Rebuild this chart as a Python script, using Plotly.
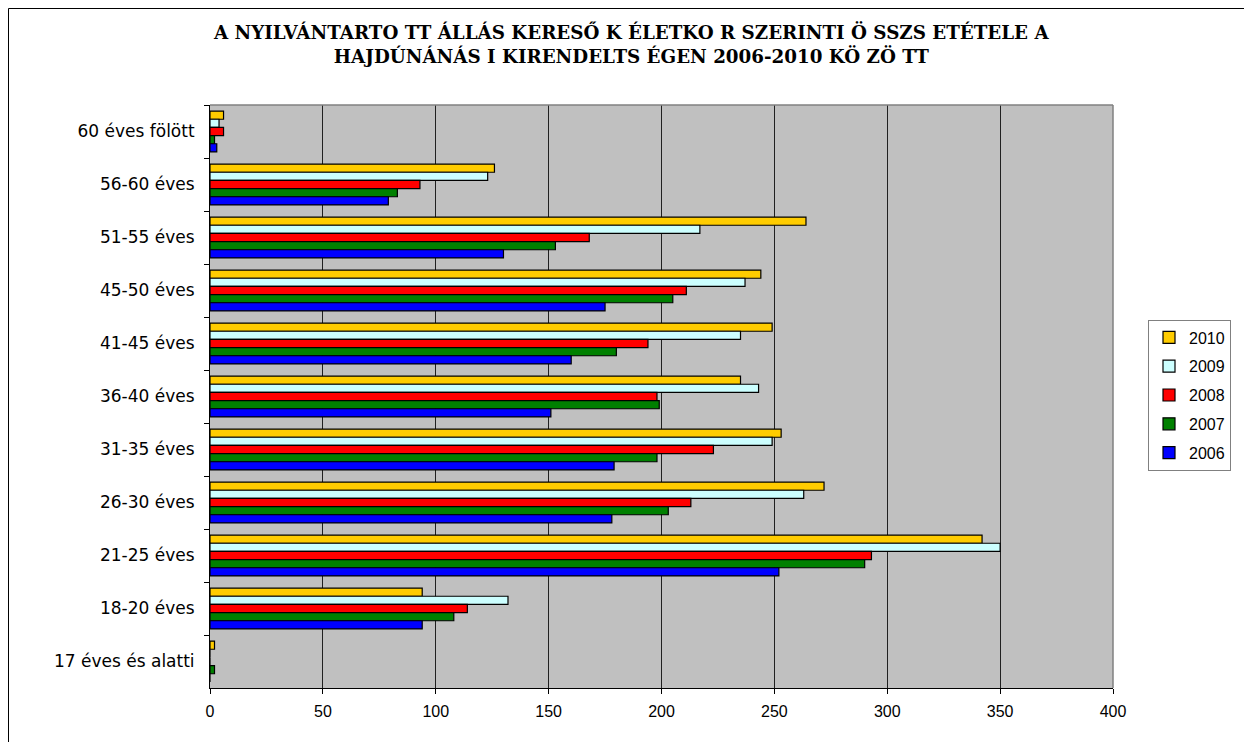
import plotly.graph_objects as go

categories = ["17 éves és alatti", "18-20 éves", "21-25 éves", "26-30 éves", "31-35 éves",
              "36-40 éves", "41-45 éves", "45-50 éves", "51-55 éves", "56-60 éves", "60 éves fölött"]
years = ["2010", "2009", "2008", "2007", "2006"]
v2006 = [0, 94, 252, 178, 179, 151, 160, 175, 130, 79, 3]
v2007 = [2, 108, 290, 203, 198, 199, 180, 205, 153, 83, 2]
v2008 = [0, 114, 293, 213, 223, 198, 194, 211, 168, 93, 6]
v2009 = [0, 132, 350, 263, 249, 243, 235, 237, 217, 123, 4]
v2010 = [2, 94, 342, 272, 253, 235, 249, 244, 264, 126, 6]
values = [v2010, v2009, v2008, v2007, v2006]
colors = ["#FFCC00", "#CCFFFF", "#FF0000", "#008000", "#0000FF"]
xticks = [0, 50, 100, 150, 200, 250, 300, 350, 400]

title_lines = ["A NYILVÁNTARTO TT ÁLLÁS KERESŐ K ÉLETKO R SZERINTI Ö SSZS ETÉTELE A",
               "HAJDÚNÁNÁS I KIRENDELTS ÉGEN 2006-2010 KÖ ZÖ TT"]

fig = go.Figure()
for y, vals, c in zip(years, values, colors):
    fig.add_trace(go.Bar(
        y=categories, x=vals, name=y, orientation="h",
        marker=dict(color=c, line=dict(color="black", width=1.2)),
        legendgroup=y,
    ))

W, H = 1252, 742
L, R, T, B = 202, 147, 97, 62
pw, ph = W - L - R, H - T - B

fig.update_layout(
    width=W, height=H,
    margin=dict(l=L, r=R, t=T, b=B),
    paper_bgcolor="white",
    plot_bgcolor="#C0C0C0",
    barmode="group",
    bargap=0.23,
    bargroupgap=0,
    showlegend=True,
    font=dict(family="Liberation Sans, Arial", size=16, color="black"),
    legend=dict(
        x=(1140 - L) / pw, xanchor="left",
        y=(T + ph - 387) / ph, yanchor="middle",
        traceorder="grouped",
        tracegroupgap=5,
        bordercolor="#808080", borderwidth=1,
        bgcolor="white",
        font=dict(size=16, family="Liberation Sans, Arial"),
        itemwidth=30,
    ),
    xaxis=dict(
        range=[0, 400], tickvals=xticks, ticktext=[str(t) for t in xticks],
        showgrid=True, gridcolor="#202020", gridwidth=1,
        ticks="outside", ticklen=5, tickcolor="black",
        showline=True, linecolor="black", linewidth=1,
        zeroline=False, fixedrange=True,
        tickfont=dict(size=16),
        ticklabelstandoff=4,
    ),
    yaxis=dict(
        type="category", categoryorder="array", categoryarray=categories[::-1],
        autorange="reversed",
        tickson="boundaries", ticks="outside", ticklen=5, tickcolor="black",
        showline=True, linecolor="black", linewidth=1,
        showgrid=False, tickfont=dict(size=17, family="DejaVu Sans"),
        ticklabelstandoff=11,
    ),
)

# plot area frame (top/right in gray)
fig.add_shape(type="line", xref="paper", yref="paper", x0=0, x1=1, y0=1, y1=1,
              line=dict(color="#808080", width=1.5))
fig.add_shape(type="line", xref="paper", yref="paper", x0=1, x1=1, y0=0, y1=1,
              line=dict(color="#808080", width=1.5))
# outer chart border
fig.add_shape(type="rect", xref="paper", yref="paper",
              x0=(0.5 - L) / pw, x1=(W + 20 - L) / pw,
              y0=(T + ph - (H + 20)) / ph, y1=(T + ph - 0.5) / ph,
              line=dict(color="black", width=1), layer="below")

fig.add_annotation(
    xref="paper", yref="paper", x=(623 - L) / pw, y=(T + ph - 36) / ph,
    text="<b>" + title_lines[0] + "</b><br><b>" + title_lines[1] + "</b>",
    showarrow=False, xanchor="center", yanchor="middle",
    font=dict(family="DejaVu Serif", size=18.3, color="black"),
    align="center",
)

fig.write_html("out.html")
